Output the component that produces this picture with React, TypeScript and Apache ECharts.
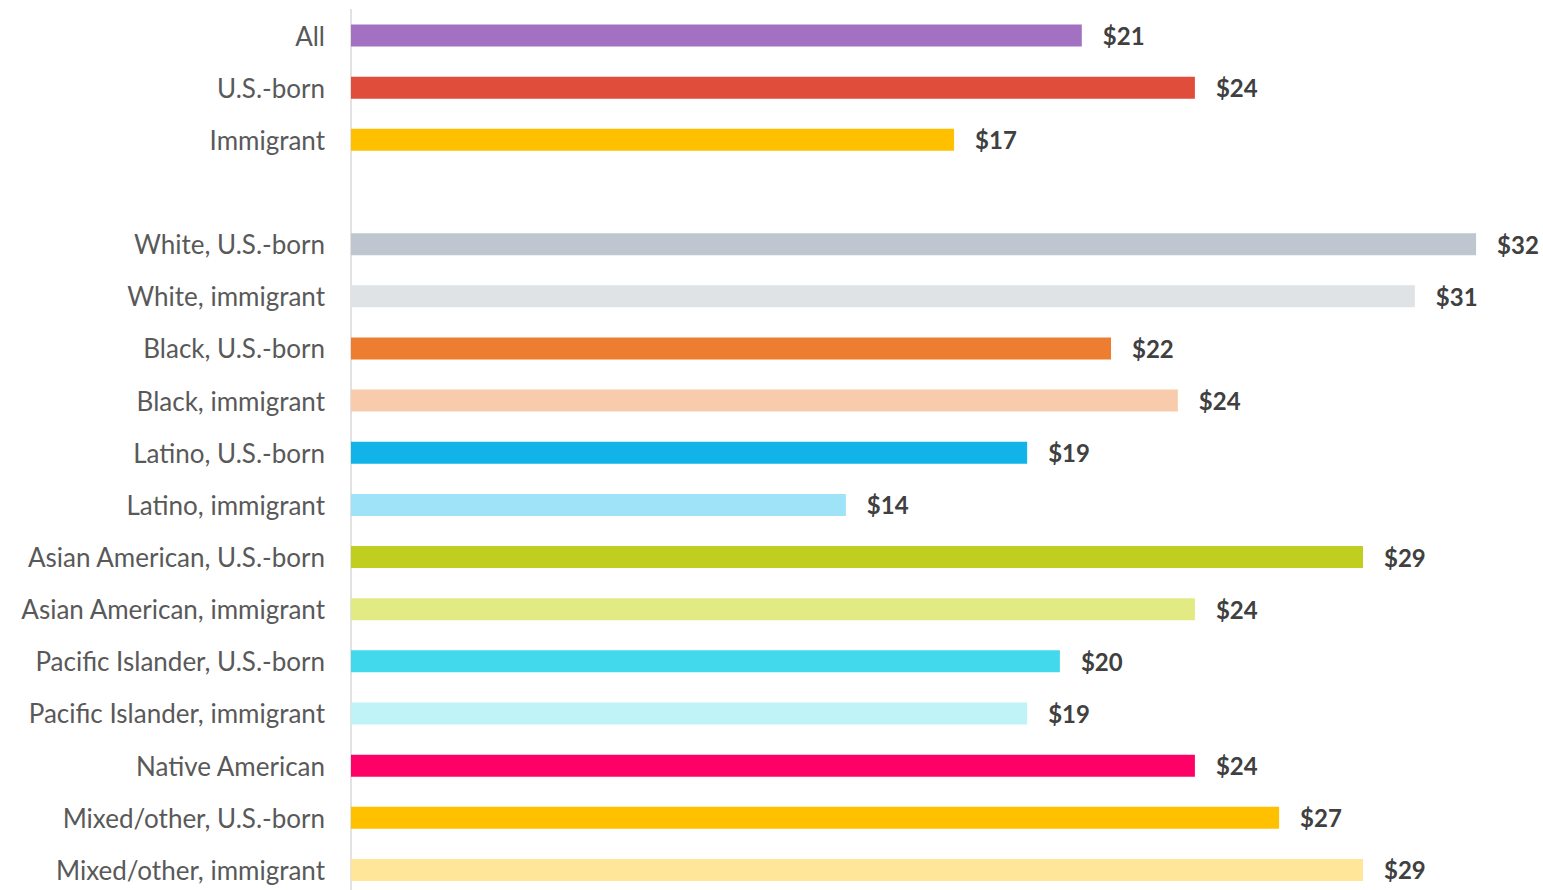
import React, { useEffect, useRef } from "react";
import * as echarts from "echarts";

const categories = [
  "All",
  "U.S.-born",
  "Immigrant",
  "",
  "White, U.S.-born",
  "White, immigrant",
  "Black, U.S.-born",
  "Black, immigrant",
  "Latino, U.S.-born",
  "Latino, immigrant",
  "Asian American, U.S.-born",
  "Asian American, immigrant",
  "Pacific Islander, U.S.-born",
  "Pacific Islander, immigrant",
  "Native American",
  "Mixed/other, U.S.-born",
  "Mixed/other, immigrant",
];

// median hourly wage (dollars)
const wages: (number | null)[] = [
  21.0, 24.25, 17.33, null, 32.33, 30.57, 21.84, 23.76, 19.43, 14.22, 29.08,
  24.25, 20.37, 19.43, 24.25, 26.67, 29.08,
];

const barColors = [
  "#A371C2",
  "#E04E3B",
  "#FFC000",
  "#FFFFFF",
  "#BEC6CF",
  "#DFE3E6",
  "#ED7D31",
  "#F7CBAC",
  "#12B3E8",
  "#9EE3F7",
  "#BFCE1F",
  "#E2EA84",
  "#41D9EB",
  "#BFF3F8",
  "#FF0066",
  "#FFC000",
  "#FFE699",
];

export default function App() {
  const ref = useRef<HTMLDivElement>(null);

  useEffect(() => {
    if (!ref.current) return;
    const chart = echarts.init(ref.current, null, { renderer: "svg" });
    chart.setOption({
      animation: false,
      backgroundColor: "#FFFFFF",
      grid: { left: 351, top: 9.5, height: 886.5, width: 1183.2, containLabel: false },
      xAxis: {
        type: "value",
        min: 0,
        max: 34,
        show: false,
      },
      yAxis: {
        type: "category",
        inverse: true,
        data: categories,
        axisTick: { show: false },
        axisLine: { show: true, lineStyle: { color: "#D9D9D9", width: 1.5 } },
        axisLabel: {
          margin: 26,
          fontFamily: "Lato",
          fontSize: 26,
          color: "#595959",
        },
        splitLine: { show: false },
      },
      series: [
        {
          type: "bar",
          barWidth: 22,
          data: wages.map((v, i) =>
            v === null ? "-" : { value: v, itemStyle: { color: barColors[i] } }
          ),
          label: {
            show: true,
            position: "right",
            distance: 21,
            fontFamily: "Lato",
            fontWeight: "bold",
            fontSize: 24,
            color: "#404040",
            formatter: (p: any) =>
              typeof p.value === "number" ? "$" + Math.round(p.value) : "",
          },
        },
      ],
    });
    return () => chart.dispose();
  }, []);

  return (
    <div
      style={{
        position: "absolute",
        left: 0,
        top: 0,
        width: 1543,
        height: 890,
        overflow: "hidden",
      }}
    >
      <div ref={ref} style={{ width: 1543, height: 900 }} />
    </div>
  );
}
